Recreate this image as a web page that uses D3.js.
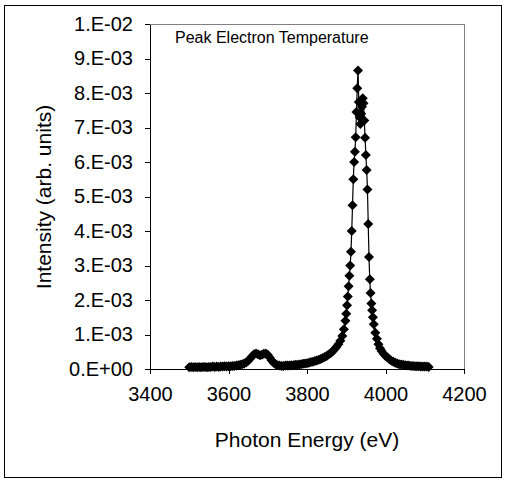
<!DOCTYPE html>
<html lang="en">
<head>
  <meta charset="UTF-8">
  <title>Peak Electron Temperature</title>
  <style>
    body {
      margin: 0;
      background: white;
    }
    #chart text {
      font-family: "Liberation Sans", Arial, sans-serif;
      fill: black;
    }
    .axis path,
    .axis line {
      fill: none;
      stroke: black;
      shape-rendering: crispEdges;
    }
  </style>
</head>
<body>
  <div id="chart"></div>

  <script src="https://d3js.org/d3.v7.min.js"></script>
  <script>
    // photon energy (eV) of each point
    const energy = [
      3500, 3505, 3510, 3515, 3520, 3525, 3530, 3535, 3540, 3545,
      3550, 3555, 3560, 3565, 3570, 3575, 3580, 3585, 3590, 3595,
      3600, 3605, 3610, 3615, 3620, 3625, 3630, 3635, 3640, 3645,
      3650, 3655, 3660, 3665, 3670, 3675, 3680, 3685, 3690, 3695,
      3700, 3705, 3710, 3715, 3720, 3725, 3730, 3735, 3740, 3745,
      3750, 3755, 3760, 3765, 3770, 3775, 3780, 3785, 3790, 3795,
      3800, 3805, 3810, 3815, 3820, 3825, 3830, 3835, 3840, 3845,
      3850, 3855, 3860, 3865, 3870, 3875, 3880, 3885, 3890, 3894,
      3898, 3900, 3902, 3904, 3906, 3908, 3910, 3912, 3914, 3916,
      3918, 3920, 3922, 3924, 3926, 3928, 3930, 3932, 3934, 3936,
      3938, 3940, 3942, 3944, 3946, 3948, 3950, 3952, 3954, 3956,
      3958, 3960, 3962, 3964, 3966, 3968, 3970, 3974, 3978, 3982,
      3986, 3990, 3995, 4000, 4005, 4010, 4015, 4020, 4025, 4030,
      4035, 4040, 4045, 4050, 4055, 4060, 4065, 4070, 4075, 4080,
      4085, 4090, 4095, 4100, 4105, 4110
    ];
    // intensity, in units of 1.E-03 (arb. units)
    const intensity = [
      0.05, 0.06, 0.05, 0.06, 0.05, 0.06, 0.05, 0.06, 0.06, 0.05,
      0.06, 0.06, 0.07, 0.06, 0.07, 0.06, 0.07, 0.07, 0.08, 0.07,
      0.08, 0.08, 0.09, 0.09, 0.10, 0.11, 0.12, 0.14, 0.16, 0.19,
      0.24, 0.30, 0.37, 0.43, 0.45, 0.43, 0.40, 0.41, 0.44, 0.45,
      0.41, 0.33, 0.25, 0.18, 0.14, 0.11, 0.10, 0.09, 0.09, 0.10,
      0.10, 0.10, 0.11, 0.11, 0.12, 0.12, 0.13, 0.14, 0.15, 0.16,
      0.17, 0.18, 0.20, 0.21, 0.23, 0.25, 0.27, 0.29, 0.32, 0.35,
      0.38, 0.42, 0.46, 0.51, 0.57, 0.64, 0.72, 0.82, 0.96, 1.15,
      1.40, 1.60, 1.85, 2.10, 2.40, 2.70, 3.00, 3.40, 4.00, 4.75,
      5.50, 6.00, 6.30, 6.72, 7.45, 8.14, 8.65, 7.74, 7.30, 7.10,
      7.40, 7.60, 7.85, 7.70, 7.20, 6.70, 6.20, 5.77, 5.20, 4.20,
      3.25, 2.60, 2.20, 1.90, 1.70, 1.50, 1.30, 1.05, 0.88, 0.72,
      0.60, 0.52, 0.44, 0.38, 0.33, 0.28, 0.24, 0.21, 0.18, 0.16,
      0.14, 0.13, 0.12, 0.11, 0.10, 0.10, 0.09, 0.09, 0.08, 0.08,
      0.08, 0.07, 0.07, 0.07, 0.07, 0.06
    ];

    const xTicks = [3400, 3600, 3800, 4000, 4200];
    const yTicks = [0, 0.001, 0.002, 0.003, 0.004, 0.005, 0.006, 0.007, 0.008, 0.009, 0.01];
    const yTickLabels = ["0.E+00", "1.E-03", "2.E-03", "3.E-03", "4.E-03", "5.E-03",
      "6.E-03", "7.E-03", "8.E-03", "9.E-03", "1.E-02"];

    const chartTitle = "Peak Electron Temperature";
    const xTitle = "Photon Energy (eV)";
    const yTitle = "Intensity (arb. units)";

    //size of the page and the plot area
    const W = 507, H = 481;
    const plotLeft = 150, plotTop = 24;
    const width = 314, height = 345;

    const points = energy.map(function (e, i) {
      return { e: e, v: intensity[i] / 1000 };
    });

    const x = d3.scaleLinear().domain([3400, 4200]).range([0, width]);
    const y = d3.scaleLinear().domain([0, 0.01]).range([height, 0]);

    const svg = d3.select('#chart')
      .append('svg')
      .attr('width', W)
      .attr('height', H);

    //outer border
    svg.append('rect')
      .attr('x', 4.5)
      .attr('y', 5.5)
      .attr('width', 497)
      .attr('height', 472)
      .attr('fill', 'white')
      .attr('stroke', 'black');

    const graph = svg.append('g')
      .attr('transform', 'translate(' + plotLeft + ',' + plotTop + ')');

    //plot area border (grey)
    graph.append('rect')
      .attr('x', 0.5)
      .attr('y', 0.5)
      .attr('width', width)
      .attr('height', height)
      .attr('fill', 'none')
      .attr('stroke', '#808080');

    //axes
    graph.append('g')
      .attr('class', 'axis')
      .attr('transform', 'translate(0,' + height + ')')
      .call(d3.axisBottom(x).tickValues(xTicks).tickSize(5).tickSizeOuter(0).tickFormat(d3.format('d')))
      .selectAll('text')
      .attr('dy', '1.2em')
      .style('font-size', '20px');

    graph.append('g')
      .attr('class', 'axis')
      .call(d3.axisLeft(y).tickValues(yTicks).tickSize(5).tickSizeOuter(0)
        .tickFormat(function (d, i) { return yTickLabels[i]; }))
      .selectAll('text')
      .attr('x', -17)
      .style('font-size', '20px');

    graph.selectAll('.axis text').attr('fill', 'black');

    //line through the points
    const line = d3.line()
      .x(function (d) { return x(d.e); })
      .y(function (d) { return y(d.v); })
      .curve(d3.curveCatmullRom.alpha(0.5));

    graph.append('path')
      .datum(points)
      .attr('d', line)
      .attr('fill', 'none')
      .attr('stroke', 'black')
      .attr('stroke-width', 1.2);

    //diamond markers
    const r = 5;
    graph.selectAll('.pt')
      .data(points)
      .enter()
      .append('path')
      .attr('class', 'pt')
      .attr('d', 'M0,' + (-r) + 'L' + r + ',0L0,' + r + 'L' + (-r) + ',0Z')
      .attr('transform', function (d) {
        return 'translate(' + x(d.e) + ',' + y(d.v) + ')';
      })
      .attr('fill', 'black');

    //titles
    svg.append('text')
      .attr('x', 175)
      .attr('y', 43)
      .style('font-size', '16px')
      .text(chartTitle);

    svg.append('text')
      .attr('x', 307)
      .attr('y', 447)
      .attr('text-anchor', 'middle')
      .style('font-size', '21px')
      .text(xTitle);

    svg.append('text')
      .attr('transform', 'translate(51,197) rotate(-90)')
      .attr('text-anchor', 'middle')
      .style('font-size', '21px')
      .text(yTitle);
  </script>
</body>
</html>
